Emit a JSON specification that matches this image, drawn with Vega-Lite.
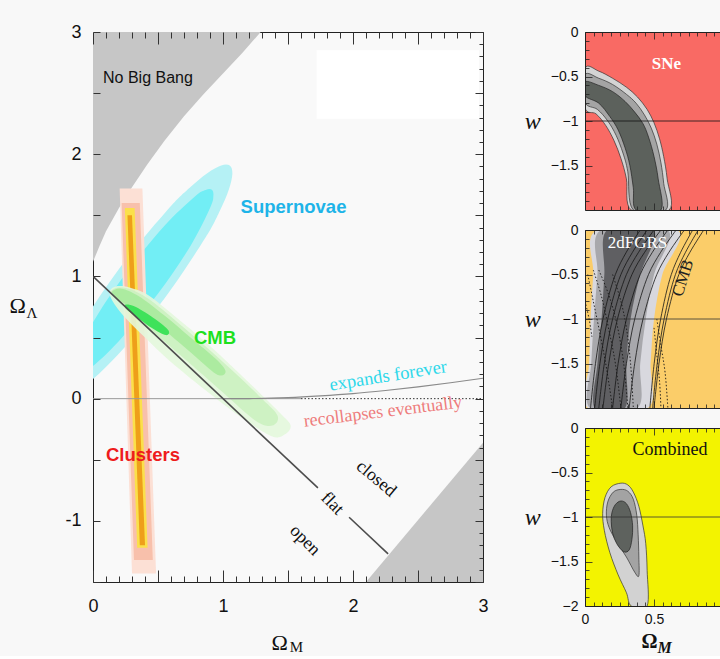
{
"$schema": "https://vega.github.io/schema/vega-lite/v6.json",
"background": "#f8f8f8",
"padding": {"left": 8, "top": 22, "right": 0, "bottom": 0},
"spacing": 35,
"config": {"font": "Liberation Sans"},
"datasets": {
"whitebox": [{"x": 1.72, "x2": 2.97, "y": 2.29, "y2": 2.85}],
"nbb": [{"i":0,"x":0,"y":1.12},{"i":1,"x":0.05,"y":1.25},{"i":2,"x":0.1,"y":1.37},{"i":3,"x":0.2,"y":1.56},{"i":4,"x":0.3,"y":1.73},{"i":5,"x":0.42,"y":1.92},{"i":6,"x":0.55,"y":2.11},{"i":7,"x":0.7,"y":2.31},{"i":8,"x":0.85,"y":2.49},{"i":9,"x":1.0,"y":2.66},{"i":10,"x":1.15,"y":2.83},{"i":11,"x":1.29,"y":3.0},{"i":12,"x":0,"y":3.0}],
"br": [{"i":0,"x":2.1,"y":-1.5},{"i":1,"x":3.0,"y":-0.36},{"i":2,"x":3.0,"y":-1.5}],
"sn_out": [{"i":0,"x":1.052,"y":1.907},{"i":1,"x":1.072,"y":1.84},{"i":2,"x":1.045,"y":1.712},{"i":3,"x":0.974,"y":1.534},{"i":4,"x":0.862,"y":1.312},{"i":5,"x":0.551,"y":0.822},{"i":6,"x":0.195,"y":0.364},{"i":7,"x":-0.11,"y":0.065},{"i":8,"x":-0.282,"y":0.003},{"i":9,"x":-0.276,"y":0.197},{"i":10,"x":-0.093,"y":0.594},{"i":11,"x":0.218,"y":1.087},{"i":12,"x":0.574,"y":1.545},{"i":13,"x":0.739,"y":1.722},{"i":14,"x":0.879,"y":1.845},{"i":15,"x":0.986,"y":1.908}],
"sn_in": [{"i":0,"x":0.914,"y":1.71},{"i":1,"x":0.926,"y":1.66},{"i":2,"x":0.901,"y":1.562},{"i":3,"x":0.751,"y":1.252},{"i":4,"x":0.502,"y":0.862},{"i":5,"x":0.221,"y":0.497},{"i":6,"x":-0.015,"y":0.255},{"i":7,"x":-0.145,"y":0.2},{"i":8,"x":-0.132,"y":0.348},{"i":9,"x":0.019,"y":0.658},{"i":10,"x":0.268,"y":1.048},{"i":11,"x":0.548,"y":1.413},{"i":12,"x":0.784,"y":1.655},{"i":13,"x":0.866,"y":1.708}],
"cl_a": [{"i":0,"x":0.205,"y":1.72},{"i":1,"x":0.38,"y":1.72},{"i":2,"x":0.485,"y":-1.43},{"i":3,"x":0.3,"y":-1.43}],
"cl_b": [{"i":0,"x":0.22,"y":1.6},{"i":1,"x":0.36,"y":1.6},{"i":2,"x":0.46,"y":-1.32},{"i":3,"x":0.315,"y":-1.32}],
"cl_c": [{"i":0,"x":0.245,"y":1.56},{"i":1,"x":0.32,"y":1.56},{"i":2,"x":0.42,"y":-1.22},{"i":3,"x":0.34,"y":-1.22}],
"cl_d": [{"i":0,"x":0.265,"y":1.5},{"i":1,"x":0.3,"y":1.5},{"i":2,"x":0.4,"y":-1.2},{"i":3,"x":0.36,"y":-1.2}],
"cmb1": [{"i":0,"x":0.13,"y":0.88},{"i":1,"x":0.18,"y":0.92},{"i":2,"x":0.28,"y":0.91},{"i":3,"x":0.42,"y":0.85},{"i":4,"x":0.6,"y":0.7},{"i":5,"x":0.9,"y":0.43},{"i":6,"x":1.2,"y":0.13},{"i":7,"x":1.45,"y":-0.13},{"i":8,"x":1.52,"y":-0.22},{"i":9,"x":1.48,"y":-0.29},{"i":10,"x":1.38,"y":-0.31},{"i":11,"x":1.15,"y":-0.16},{"i":12,"x":0.9,"y":0.04},{"i":13,"x":0.6,"y":0.3},{"i":14,"x":0.4,"y":0.5},{"i":15,"x":0.25,"y":0.66},{"i":16,"x":0.15,"y":0.8}],
"cmb2": [{"i":0,"x":0.14,"y":0.88},{"i":1,"x":0.2,"y":0.91},{"i":2,"x":0.3,"y":0.89},{"i":3,"x":0.45,"y":0.8},{"i":4,"x":0.7,"y":0.58},{"i":5,"x":1.0,"y":0.3},{"i":6,"x":1.3,"y":0.0},{"i":7,"x":1.42,"y":-0.14},{"i":8,"x":1.38,"y":-0.22},{"i":9,"x":1.25,"y":-0.18},{"i":10,"x":1.0,"y":0.05},{"i":11,"x":0.7,"y":0.33},{"i":12,"x":0.45,"y":0.56},{"i":13,"x":0.28,"y":0.72},{"i":14,"x":0.16,"y":0.83}],
"cmb3": [{"i":0,"x":0.15,"y":0.88},{"i":1,"x":0.22,"y":0.9},{"i":2,"x":0.35,"y":0.84},{"i":3,"x":0.55,"y":0.68},{"i":4,"x":0.75,"y":0.5},{"i":5,"x":0.95,"y":0.32},{"i":6,"x":1.02,"y":0.22},{"i":7,"x":0.95,"y":0.2},{"i":8,"x":0.75,"y":0.38},{"i":9,"x":0.5,"y":0.6},{"i":10,"x":0.3,"y":0.74},{"i":11,"x":0.17,"y":0.83}],
"cmb4": [{"i":0,"x":0.25,"y":0.77},{"i":1,"x":0.33,"y":0.75},{"i":2,"x":0.48,"y":0.65},{"i":3,"x":0.58,"y":0.56},{"i":4,"x":0.56,"y":0.52},{"i":5,"x":0.45,"y":0.58},{"i":6,"x":0.32,"y":0.68},{"i":7,"x":0.25,"y":0.74}],
"zero_solid": [{"x":0,"y":0},{"x":1.6,"y":0}],
"zero_dot": [{"x":1.6,"y":0},{"x":3.0,"y":0}],
"expand": [{"x":1.0,"y":0},{"x":1.25,"y":0.0015},{"x":1.5,"y":0.0085},{"x":1.75,"y":0.0224},{"x":2.0,"y":0.041},{"x":2.25,"y":0.0666},{"x":2.5,"y":0.096},{"x":2.75,"y":0.13},{"x":3.0,"y":0.167}],
"flat": [{"s":"a","x":0,"y":1},{"s":"a","x":1.73,"y":-0.73},{"s":"b","x":1.97,"y":-0.97},{"s":"b","x":2.27,"y":-1.27}],
"wline": [{"x":0,"y":-1},{"x":1,"y":-1}],
"p1_light": [{"i":0,"x":0,"y":-0.41},{"i":1,"x":0.1,"y":-0.44},{"i":2,"x":0.2,"y":-0.52},{"i":3,"x":0.3,"y":-0.62},{"i":4,"x":0.38,"y":-0.73},{"i":5,"x":0.45,"y":-0.87},{"i":6,"x":0.5,"y":-1.02},{"i":7,"x":0.54,"y":-1.2},{"i":8,"x":0.57,"y":-1.4},{"i":9,"x":0.595,"y":-1.65},{"i":10,"x":0.61,"y":-2.0},{"i":11,"x":0.335,"y":-2.0},{"i":12,"x":0.3,"y":-1.65},{"i":13,"x":0.26,"y":-1.42},{"i":14,"x":0.21,"y":-1.22},{"i":15,"x":0.15,"y":-1.05},{"i":16,"x":0.08,"y":-0.92},{"i":17,"x":0,"y":-0.85}],
"p1_med": [{"i":0,"x":0,"y":-0.48},{"i":1,"x":0.1,"y":-0.52},{"i":2,"x":0.2,"y":-0.59},{"i":3,"x":0.3,"y":-0.7},{"i":4,"x":0.37,"y":-0.8},{"i":5,"x":0.43,"y":-0.93},{"i":6,"x":0.48,"y":-1.08},{"i":7,"x":0.52,"y":-1.26},{"i":8,"x":0.55,"y":-1.47},{"i":9,"x":0.57,"y":-1.7},{"i":10,"x":0.585,"y":-2.0},{"i":11,"x":0.35,"y":-2.0},{"i":12,"x":0.31,"y":-1.57},{"i":13,"x":0.275,"y":-1.36},{"i":14,"x":0.225,"y":-1.16},{"i":15,"x":0.165,"y":-1.0},{"i":16,"x":0.09,"y":-0.87},{"i":17,"x":0,"y":-0.79}],
"p1_dark": [{"i":0,"x":0,"y":-0.56},{"i":1,"x":0.1,"y":-0.6},{"i":2,"x":0.2,"y":-0.67},{"i":3,"x":0.29,"y":-0.78},{"i":4,"x":0.36,"y":-0.9},{"i":5,"x":0.42,"y":-1.03},{"i":6,"x":0.46,"y":-1.18},{"i":7,"x":0.5,"y":-1.4},{"i":8,"x":0.53,"y":-1.65},{"i":9,"x":0.55,"y":-2.0},{"i":10,"x":0.37,"y":-2.0},{"i":11,"x":0.35,"y":-1.75},{"i":12,"x":0.325,"y":-1.5},{"i":13,"x":0.29,"y":-1.3},{"i":14,"x":0.24,"y":-1.1},{"i":15,"x":0.18,"y":-0.95},{"i":16,"x":0.1,"y":-0.8},{"i":17,"x":0,"y":-0.715}],
"p2_light": [{"i":0,"x":0.087,"y":0},{"i":1,"x":0.06,"y":-0.5},{"i":2,"x":0.04,"y":-1},{"i":3,"x":0.03,"y":-1.5},{"i":4,"x":0.02,"y":-2},{"i":5,"x":0.455,"y":-2},{"i":6,"x":0.475,"y":-1.5},{"i":7,"x":0.5,"y":-1},{"i":8,"x":0.56,"y":-0.5},{"i":9,"x":0.67,"y":0}],
"p2_med": [{"i":0,"x":0.115,"y":0},{"i":1,"x":0.09,"y":-0.5},{"i":2,"x":0.065,"y":-1},{"i":3,"x":0.045,"y":-1.5},{"i":4,"x":0.035,"y":-2},{"i":5,"x":0.38,"y":-2},{"i":6,"x":0.4,"y":-1.5},{"i":7,"x":0.44,"y":-1},{"i":8,"x":0.5,"y":-0.5},{"i":9,"x":0.6,"y":0}],
"p2_dark": [{"i":0,"x":0.16,"y":0},{"i":1,"x":0.14,"y":-0.5},{"i":2,"x":0.12,"y":-1},{"i":3,"x":0.09,"y":-1.5},{"i":4,"x":0.07,"y":-2},{"i":5,"x":0.29,"y":-2},{"i":6,"x":0.3,"y":-1.5},{"i":7,"x":0.33,"y":-1},{"i":8,"x":0.4,"y":-0.5},{"i":9,"x":0.5,"y":0}],
"p2_cmb": [
{"s":1,"i":0,"x":0.4,"y":0},{"s":1,"i":1,"x":0.299,"y":-0.25},{"s":1,"i":2,"x":0.22,"y":-0.5},{"s":1,"i":3,"x":0.13,"y":-1},{"s":1,"i":4,"x":0.076,"y":-1.5},{"s":1,"i":5,"x":0.04,"y":-2},
{"s":2,"i":0,"x":0.45,"y":0},{"s":2,"i":1,"x":0.344,"y":-0.25},{"s":2,"i":2,"x":0.26,"y":-0.5},{"s":2,"i":3,"x":0.165,"y":-1},{"s":2,"i":4,"x":0.108,"y":-1.5},{"s":2,"i":5,"x":0.07,"y":-2},
{"s":3,"i":0,"x":0.5,"y":0},{"s":3,"i":1,"x":0.388,"y":-0.25},{"s":3,"i":2,"x":0.3,"y":-0.5},{"s":3,"i":3,"x":0.2,"y":-1},{"s":3,"i":4,"x":0.14,"y":-1.5},{"s":3,"i":5,"x":0.1,"y":-2},
{"s":4,"i":0,"x":0.55,"y":0},{"s":4,"i":1,"x":0.432,"y":-0.25},{"s":4,"i":2,"x":0.34,"y":-0.5},{"s":4,"i":3,"x":0.235,"y":-1},{"s":4,"i":4,"x":0.172,"y":-1.5},{"s":4,"i":5,"x":0.13,"y":-2},
{"s":5,"i":0,"x":0.6,"y":0},{"s":5,"i":1,"x":0.488,"y":-0.25},{"s":5,"i":2,"x":0.4,"y":-0.5},{"s":5,"i":3,"x":0.3,"y":-1},{"s":5,"i":4,"x":0.24,"y":-1.5},{"s":5,"i":5,"x":0.2,"y":-2},
{"s":6,"i":0,"x":0.66,"y":0},{"s":6,"i":1,"x":0.548,"y":-0.25},{"s":6,"i":2,"x":0.46,"y":-0.5},{"s":6,"i":3,"x":0.36,"y":-1},{"s":6,"i":4,"x":0.3,"y":-1.5},{"s":6,"i":5,"x":0.26,"y":-2},
{"s":7,"i":0,"x":0.72,"y":0},{"s":7,"i":1,"x":0.608,"y":-0.25},{"s":7,"i":2,"x":0.52,"y":-0.5},{"s":7,"i":3,"x":0.42,"y":-1},{"s":7,"i":4,"x":0.36,"y":-1.5},{"s":7,"i":5,"x":0.32,"y":-2},
{"s":8,"i":0,"x":0.78,"y":0},{"s":8,"i":1,"x":0.693,"y":-0.25},{"s":8,"i":2,"x":0.625,"y":-0.5},{"s":8,"i":3,"x":0.548,"y":-1},{"s":8,"i":4,"x":0.501,"y":-1.5},{"s":8,"i":5,"x":0.47,"y":-2},
{"s":9,"i":0,"x":0.82,"y":0},{"s":9,"i":1,"x":0.728,"y":-0.25},{"s":9,"i":2,"x":0.655,"y":-0.5},{"s":9,"i":3,"x":0.573,"y":-1},{"s":9,"i":4,"x":0.523,"y":-1.5},{"s":9,"i":5,"x":0.49,"y":-2},
{"s":10,"i":0,"x":0.86,"y":0},{"s":10,"i":1,"x":0.76,"y":-0.25},{"s":10,"i":2,"x":0.68,"y":-0.5},{"s":10,"i":3,"x":0.59,"y":-1},{"s":10,"i":4,"x":0.536,"y":-1.5},{"s":10,"i":5,"x":0.5,"y":-2}],
"p2_dot": [
{"s":1,"i":0,"x":0.02,"y":-0.5},{"s":1,"i":1,"x":0.06,"y":-0.8},{"s":1,"i":2,"x":0.1,"y":-1.1},{"s":1,"i":3,"x":0.15,"y":-1.5},{"s":1,"i":4,"x":0.2,"y":-2.0},
{"s":2,"i":0,"x":0.06,"y":-0.45},{"s":2,"i":1,"x":0.12,"y":-0.75},{"s":2,"i":2,"x":0.17,"y":-1.1},{"s":2,"i":3,"x":0.22,"y":-1.5},{"s":2,"i":4,"x":0.26,"y":-2.0},
{"s":3,"i":0,"x":0.1,"y":-0.45},{"s":3,"i":1,"x":0.17,"y":-0.72},{"s":3,"i":2,"x":0.23,"y":-1.05},{"s":3,"i":3,"x":0.28,"y":-1.5},{"s":3,"i":4,"x":0.31,"y":-2.0},
{"s":4,"i":0,"x":0.2,"y":-0.5},{"s":4,"i":1,"x":0.26,"y":-0.8},{"s":4,"i":2,"x":0.3,"y":-1.1},{"s":4,"i":3,"x":0.33,"y":-1.5},{"s":4,"i":4,"x":0.35,"y":-2.0},
{"s":5,"i":0,"x":0.0,"y":-0.8},{"s":5,"i":1,"x":0.03,"y":-1.0},{"s":5,"i":2,"x":0.05,"y":-1.2},
{"s":6,"i":0,"x":0.52,"y":-1.0},{"s":6,"i":1,"x":0.55,"y":-1.3},{"s":6,"i":2,"x":0.58,"y":-1.6},{"s":6,"i":3,"x":0.6,"y":-2.0},
{"s":7,"i":0,"x":0.5,"y":-1.1},{"s":7,"i":1,"x":0.52,"y":-1.4},{"s":7,"i":2,"x":0.54,"y":-1.7},{"s":7,"i":3,"x":0.55,"y":-2.0}],
"p3_light": [{"i":0,"x":0.26,"y":-0.62},{"i":1,"x":0.31,"y":-0.64},{"i":2,"x":0.35,"y":-0.72},{"i":3,"x":0.39,"y":-0.88},{"i":4,"x":0.42,"y":-1.1},{"i":5,"x":0.44,"y":-1.3},{"i":6,"x":0.45,"y":-1.6},{"i":7,"x":0.45,"y":-2.0},{"i":8,"x":0.335,"y":-2.0},{"i":9,"x":0.3,"y":-1.85},{"i":10,"x":0.24,"y":-1.65},{"i":11,"x":0.18,"y":-1.4},{"i":12,"x":0.14,"y":-1.15},{"i":13,"x":0.128,"y":-0.96},{"i":14,"x":0.145,"y":-0.78},{"i":15,"x":0.19,"y":-0.66}],
"p3_med": [{"i":0,"x":0.26,"y":-0.69},{"i":1,"x":0.31,"y":-0.71},{"i":2,"x":0.35,"y":-0.8},{"i":3,"x":0.375,"y":-0.98},{"i":4,"x":0.385,"y":-1.2},{"i":5,"x":0.39,"y":-1.45},{"i":6,"x":0.39,"y":-1.66},{"i":7,"x":0.36,"y":-1.62},{"i":8,"x":0.3,"y":-1.45},{"i":9,"x":0.23,"y":-1.28},{"i":10,"x":0.175,"y":-1.12},{"i":11,"x":0.155,"y":-0.98},{"i":12,"x":0.165,"y":-0.83},{"i":13,"x":0.205,"y":-0.72}],
"p3_dark": [{"i":0,"x":0.26,"y":-0.82},{"i":1,"x":0.3,"y":-0.85},{"i":2,"x":0.33,"y":-0.95},{"i":3,"x":0.345,"y":-1.1},{"i":4,"x":0.34,"y":-1.25},{"i":5,"x":0.32,"y":-1.37},{"i":6,"x":0.28,"y":-1.39},{"i":7,"x":0.23,"y":-1.3},{"i":8,"x":0.2,"y":-1.18},{"i":9,"x":0.19,"y":-1.05},{"i":10,"x":0.195,"y":-0.95},{"i":11,"x":0.22,"y":-0.86}]
},
"hconcat": [
{
"width": 390, "height": 550,
"view": {"fill": "#f9f9f9", "stroke": "#222222", "strokeWidth": 1},
"encoding": {
 "x": {"field": "x", "type": "quantitative", "scale": {"domain": [0, 3], "nice": false, "zero": false}, "axis": null},
 "y": {"field": "y", "type": "quantitative", "scale": {"domain": [-1.5, 3], "nice": false, "zero": false}, "axis": null}
},
"resolve": {"axis": {"x": "independent", "y": "independent"}},
"layer": [
 {"data": {"name": "whitebox"}, "mark": {"type": "rect", "fill": "#ffffff"},
  "encoding": {
   "x": {"field": "x", "type": "quantitative", "scale": {"domain": [0, 3], "nice": false, "zero": false},
     "axis": {"orient": "bottom", "values": [0,0.1,0.2,0.3,0.4,0.5,0.6,0.7,0.8,0.9,1,1.1,1.2,1.3,1.4,1.5,1.6,1.7,1.8,1.9,2,2.1,2.2,2.3,2.4,2.5,2.6,2.7,2.8,2.9,3],
       "title": null, "grid": false, "domain": false, "tickColor": "#333333", "tickWidth": 1,
       "tickSize": {"condition": {"test": "abs(datum.value*2-round(datum.value*2))<0.001", "value": -12}, "value": -6},
       "labelExpr": "abs(datum.value-round(datum.value))<0.001 ? ''+round(datum.value) : ''",
       "labelPadding": 27, "labelFont": "Liberation Sans", "labelFontSize": 18, "labelColor": "#111111", "labelFlush": false, "labelOverlap": false, "zindex": 1}},
   "x2": {"field": "x2"},
   "y": {"field": "y", "type": "quantitative", "scale": {"domain": [-1.5, 3], "nice": false, "zero": false},
     "axis": {"orient": "left", "values": [-1.5,-1,-0.5,0,0.5,1,1.5,2,2.5,3],
       "title": null, "grid": false, "domain": false, "tickColor": "#333333", "tickWidth": 1, "tickSize": -7,
       "labelExpr": "abs(datum.value-round(datum.value))<0.001 ? (datum.value<0 ? '-'+abs(round(datum.value)) : ''+round(datum.value)) : ''",
       "labelPadding": 19, "labelFont": "Liberation Sans", "labelFontSize": 18, "labelColor": "#111111", "labelFlush": false, "labelOverlap": false, "zindex": 1}},
   "y2": {"field": "y2"}
  }},
 {"data": {"name": "nbb"}, "mark": {"type": "line", "fill": "#c6c6c6", "strokeWidth": 0, "strokeOpacity": 0, "interpolate": "linear-closed", "clip": true},
  "encoding": {
   "x": {"field": "x", "type": "quantitative", "scale": {"domain": [0, 3], "nice": false, "zero": false},
     "axis": {"orient": "top", "values": [0,0.1,0.2,0.3,0.4,0.5,0.6,0.7,0.8,0.9,1,1.1,1.2,1.3,1.4,1.5,1.6,1.7,1.8,1.9,2,2.1,2.2,2.3,2.4,2.5,2.6,2.7,2.8,2.9,3],
       "title": null, "grid": false, "domain": false, "labels": false, "tickColor": "#333333", "tickWidth": 1,
       "tickSize": {"condition": {"test": "abs(datum.value*2-round(datum.value*2))<0.001", "value": -12}, "value": -6}, "zindex": 1}},
   "y": {"field": "y", "type": "quantitative", "scale": {"domain": [-1.5, 3], "nice": false, "zero": false},
     "axis": {"orient": "right", "values": [-1.5,-1.4,-1.3,-1.2,-1.1,-1,-0.9,-0.8,-0.7,-0.6,-0.5,-0.4,-0.3,-0.2,-0.1,0,0.1,0.2,0.3,0.4,0.5,0.6,0.7,0.8,0.9,1,1.1,1.2,1.3,1.4,1.5,1.6,1.7,1.8,1.9,2,2.1,2.2,2.3,2.4,2.5,2.6,2.7,2.8,2.9,3],
       "title": null, "grid": false, "domain": false, "labels": false, "tickColor": "#333333", "tickWidth": 1,
       "tickSize": {"condition": {"test": "abs(datum.value*2-round(datum.value*2))<0.001", "value": -8}, "value": -4}, "zindex": 1}},
   "order": {"field": "i", "type": "quantitative"}
  }},
 {"data": {"name": "br"}, "mark": {"type": "line", "fill": "#c6c6c6", "strokeWidth": 0, "strokeOpacity": 0, "interpolate": "linear-closed", "clip": true}, "encoding": {"order": {"field": "i", "type": "quantitative"}}},
 {"data": {"name": "sn_out"}, "mark": {"type": "line", "fill": "#b5f1f5", "strokeWidth": 0, "strokeOpacity": 0, "interpolate": "cardinal-closed", "clip": true}, "encoding": {"order": {"field": "i", "type": "quantitative"}}},
 {"data": {"name": "sn_in"}, "mark": {"type": "line", "fill": "#72eef5", "strokeWidth": 0, "strokeOpacity": 0, "interpolate": "cardinal-closed", "clip": true}, "encoding": {"order": {"field": "i", "type": "quantitative"}}},
 {"data": {"name": "cl_a"}, "mark": {"type": "line", "fill": "#fce0d5", "strokeWidth": 0, "strokeOpacity": 0, "interpolate": "linear-closed", "clip": true}, "encoding": {"order": {"field": "i", "type": "quantitative"}}},
 {"data": {"name": "cl_b"}, "mark": {"type": "line", "fill": "#f8c0ab", "strokeWidth": 0, "strokeOpacity": 0, "interpolate": "linear-closed", "clip": true}, "encoding": {"order": {"field": "i", "type": "quantitative"}}},
 {"data": {"name": "cl_c"}, "mark": {"type": "line", "fill": "#fbe04a", "strokeWidth": 0, "strokeOpacity": 0, "interpolate": "linear-closed", "clip": true}, "encoding": {"order": {"field": "i", "type": "quantitative"}}},
 {"data": {"name": "cl_d"}, "mark": {"type": "line", "fill": "#ee9f1a", "strokeWidth": 0, "strokeOpacity": 0, "interpolate": "linear-closed", "clip": true}, "encoding": {"order": {"field": "i", "type": "quantitative"}}},
 {"data": {"name": "cmb1"}, "mark": {"type": "line", "fill": "#e3f7dc", "fillOpacity": 0.9, "strokeWidth": 0, "strokeOpacity": 0, "interpolate": "cardinal-closed", "clip": true}, "encoding": {"order": {"field": "i", "type": "quantitative"}}},
 {"data": {"name": "cmb2"}, "mark": {"type": "line", "fill": "#cbf1c0", "fillOpacity": 0.9, "strokeWidth": 0, "strokeOpacity": 0, "interpolate": "cardinal-closed", "clip": true}, "encoding": {"order": {"field": "i", "type": "quantitative"}}},
 {"data": {"name": "cmb3"}, "mark": {"type": "line", "fill": "#a8ea9c", "fillOpacity": 0.9, "strokeWidth": 0, "strokeOpacity": 0, "interpolate": "cardinal-closed", "clip": true}, "encoding": {"order": {"field": "i", "type": "quantitative"}}},
 {"data": {"name": "cmb4"}, "mark": {"type": "line", "fill": "#3fe25a", "strokeWidth": 0, "strokeOpacity": 0, "interpolate": "cardinal-closed", "clip": true}, "encoding": {"order": {"field": "i", "type": "quantitative"}}},
 {"data": {"name": "zero_solid"}, "mark": {"type": "line", "color": "#9a9a9a", "strokeWidth": 1, "clip": true}},
 {"data": {"name": "zero_dot"}, "mark": {"type": "line", "color": "#333333", "strokeWidth": 1, "strokeDash": [1.5, 2], "clip": true}},
 {"data": {"name": "expand"}, "mark": {"type": "line", "color": "#8a8a8a", "strokeWidth": 1.2, "interpolate": "monotone", "clip": true}},
 {"data": {"name": "flat"}, "mark": {"type": "line", "color": "#4d4d4d", "strokeWidth": 1.6, "clip": true}, "encoding": {"detail": {"field": "s", "type": "nominal"}}},
 {"data": {"values": [{"x": 0.077, "y": 2.62, "t": "No Big Bang"}]}, "mark": {"type": "text", "font": "Liberation Sans", "fontSize": 16, "align": "left", "baseline": "middle", "color": "#111111"}, "encoding": {"text": {"field": "t"}}},
 {"data": {"values": [{"x": 1.135, "y": 1.566, "t": "Supernovae"}]}, "mark": {"type": "text", "font": "Liberation Sans", "fontWeight": "bold", "fontSize": 18.5, "align": "left", "baseline": "middle", "color": "#1eb4e8"}, "encoding": {"text": {"field": "t"}}},
 {"data": {"values": [{"x": 0.777, "y": 0.5, "t": "CMB"}]}, "mark": {"type": "text", "font": "Liberation Sans", "fontWeight": "bold", "fontSize": 18.5, "align": "left", "baseline": "middle", "color": "#1ee01e"}, "encoding": {"text": {"field": "t"}}},
 {"data": {"values": [{"x": 0.1, "y": -0.46, "t": "Clusters"}]}, "mark": {"type": "text", "font": "Liberation Sans", "fontWeight": "bold", "fontSize": 18.5, "align": "left", "baseline": "middle", "color": "#ee1c1c"}, "encoding": {"text": {"field": "t"}}},
 {"data": {"values": [{"x": 2.27, "y": 0.19, "t": "expands forever"}]}, "mark": {"type": "text", "font": "Liberation Serif", "fontSize": 18.5, "align": "center", "baseline": "middle", "angle": -9, "color": "#2ed8ea"}, "encoding": {"text": {"field": "t"}}},
 {"data": {"values": [{"x": 2.23, "y": -0.11, "t": "recollapses eventually"}]}, "mark": {"type": "text", "font": "Liberation Serif", "fontSize": 18, "align": "center", "baseline": "middle", "angle": -7, "color": "#ee7c7c"}, "encoding": {"text": {"field": "t"}}},
 {"data": {"values": [{"x": 2.177, "y": -0.656, "t": "closed"}]}, "mark": {"type": "text", "font": "Liberation Serif", "fontSize": 18, "align": "center", "baseline": "middle", "angle": 40, "color": "#111111"}, "encoding": {"text": {"field": "t"}}},
 {"data": {"values": [{"x": 1.84, "y": -0.86, "t": "flat"}]}, "mark": {"type": "text", "font": "Liberation Serif", "fontSize": 18, "align": "center", "baseline": "middle", "angle": 45, "color": "#111111"}, "encoding": {"text": {"field": "t"}}},
 {"data": {"values": [{"x": 1.63, "y": -1.16, "t": "open"}]}, "mark": {"type": "text", "font": "Liberation Serif", "fontSize": 18, "align": "center", "baseline": "middle", "angle": 45, "color": "#111111"}, "encoding": {"text": {"field": "t"}}},
 {"data": {"values": [{"x": -0.58, "y": 0.762, "t": "Ω"}, {"x": 1.435, "y": -1.996, "t": "Ω"}]}, "mark": {"type": "text", "font": "Liberation Serif", "fontSize": 22, "align": "center", "baseline": "middle", "color": "#111111"}, "encoding": {"text": {"field": "t"}}},
 {"data": {"values": [{"x": -0.47, "y": 0.7, "t": "Λ"}, {"x": 1.565, "y": -2.035, "t": "M"}]}, "mark": {"type": "text", "font": "Liberation Serif", "fontSize": 15, "align": "center", "baseline": "middle", "color": "#111111"}, "encoding": {"text": {"field": "t"}}}
]
},
{
"spacing": 12,
"vconcat": [
{
"width": 136, "height": 178,
"view": {"fill": "#f96a64", "stroke": null},
"encoding": {
 "x": {"field": "x", "type": "quantitative", "scale": {"domain": [0, 0.985], "nice": false, "zero": false}, "axis": null},
 "y": {"field": "y", "type": "quantitative", "scale": {"domain": [-2, 0], "nice": false, "zero": false}, "axis": null}
},
"resolve": {"axis": {"x": "independent", "y": "independent"}},
"layer": [
 {"data": {"name": "p1_light"}, "mark": {"type": "line", "fill": "#d4d4d4", "stroke": "#333333", "strokeWidth": 0.7, "interpolate": "cardinal-closed", "clip": true},
  "encoding": {
   "x": {"field": "x", "type": "quantitative", "scale": {"domain": [0, 0.985], "nice": false, "zero": false},
     "axis": {"orient": "bottom", "values": [0,0.0625,0.125,0.1875,0.25,0.3125,0.375,0.4375,0.5,0.5625,0.625,0.6875,0.75,0.8125,0.875,0.9375], "title": null, "grid": false, "domain": true, "domainColor": "#222222", "domainWidth": 1, "labels": false, "tickColor": "#222222", "tickWidth": 0.8,
       "tickSize": {"condition": {"test": "abs(datum.value*2-round(datum.value*2))<0.001", "value": -7}, "value": -4}, "zindex": 1}},
   "y": {"field": "y", "type": "quantitative", "scale": {"domain": [-2, 0], "nice": false, "zero": false},
     "axis": {"orient": "left", "values": [0,-0.1,-0.2,-0.3,-0.4,-0.5,-0.6,-0.7,-0.8,-0.9,-1,-1.1,-1.2,-1.3,-1.4,-1.5,-1.6,-1.7,-1.8,-1.9], "grid": false, "domain": true, "domainColor": "#222222", "domainWidth": 1, "tickColor": "#222222", "tickWidth": 0.8,
       "tickSize": {"condition": {"test": "abs(datum.value*2-round(datum.value*2))<0.001", "value": -7}, "value": -4},
       "format": "~g", "labelExpr": "abs(datum.value*2-round(datum.value*2))<0.001 ? datum.label : ''",
       "labelPadding": 14, "labelFont": "Liberation Sans", "labelFontSize": 14, "labelColor": "#111111", "labelFlush": false, "labelOverlap": false,
       "title": "w", "titleFont": "Liberation Serif", "titleFontStyle": "italic", "titleFontWeight": "normal", "titleFontSize": 24, "titleColor": "#111111", "titleAngle": 0, "titleAlign": "right", "titleBaseline": "middle", "titlePadding": 10, "zindex": 1}},
   "order": {"field": "i", "type": "quantitative"}
  }},
 {"data": {"name": "p1_med"}, "mark": {"type": "line", "fill": "#a4a4a4", "stroke": "#333333", "strokeWidth": 0.7, "interpolate": "cardinal-closed", "clip": true},
  "encoding": {
   "x": {"field": "x", "type": "quantitative", "scale": {"domain": [0, 0.985], "nice": false, "zero": false},
     "axis": {"orient": "top", "values": [0,0.0625,0.125,0.1875,0.25,0.3125,0.375,0.4375,0.5,0.5625,0.625,0.6875,0.75,0.8125,0.875,0.9375], "title": null, "grid": false, "domain": true, "domainColor": "#222222", "domainWidth": 1, "labels": false, "tickColor": "#222222", "tickWidth": 0.8,
       "tickSize": {"condition": {"test": "abs(datum.value*2-round(datum.value*2))<0.001", "value": -7}, "value": -4}, "zindex": 1}},
   "order": {"field": "i", "type": "quantitative"}
  }},
 {"data": {"name": "p1_dark"}, "mark": {"type": "line", "fill": "#5c615c", "stroke": "#222222", "strokeWidth": 0.7, "interpolate": "cardinal-closed", "clip": true}, "encoding": {"order": {"field": "i", "type": "quantitative"}}},
 {"data": {"name": "wline"}, "mark": {"type": "line", "color": "#111111", "strokeWidth": 0.8, "clip": true}},
 {"data": {"values": [{"x": 0.59, "y": -0.36, "t": "SNe"}]}, "mark": {"type": "text", "font": "Liberation Serif", "fontWeight": "bold", "fontSize": 17, "align": "center", "baseline": "middle", "color": "#ffffff"}, "encoding": {"text": {"field": "t"}}}
]
},
{
"width": 136, "height": 178,
"view": {"fill": "#fbcd69", "stroke": null},
"encoding": {
 "x": {"field": "x", "type": "quantitative", "scale": {"domain": [0, 0.985], "nice": false, "zero": false}, "axis": null},
 "y": {"field": "y", "type": "quantitative", "scale": {"domain": [-2, 0], "nice": false, "zero": false}, "axis": null}
},
"resolve": {"axis": {"x": "independent", "y": "independent"}},
"layer": [
 {"data": {"name": "p2_light"}, "mark": {"type": "line", "fill": "#d8d8de", "strokeWidth": 0, "strokeOpacity": 0, "interpolate": "cardinal-closed", "clip": true},
  "encoding": {
   "x": {"field": "x", "type": "quantitative", "scale": {"domain": [0, 0.985], "nice": false, "zero": false},
     "axis": {"orient": "bottom", "values": [0,0.0625,0.125,0.1875,0.25,0.3125,0.375,0.4375,0.5,0.5625,0.625,0.6875,0.75,0.8125,0.875,0.9375], "title": null, "grid": false, "domain": true, "domainColor": "#222222", "domainWidth": 1, "labels": false, "tickColor": "#222222", "tickWidth": 0.8,
       "tickSize": {"condition": {"test": "abs(datum.value*2-round(datum.value*2))<0.001", "value": -7}, "value": -4}, "zindex": 1}},
   "y": {"field": "y", "type": "quantitative", "scale": {"domain": [-2, 0], "nice": false, "zero": false},
     "axis": {"orient": "left", "values": [0,-0.1,-0.2,-0.3,-0.4,-0.5,-0.6,-0.7,-0.8,-0.9,-1,-1.1,-1.2,-1.3,-1.4,-1.5,-1.6,-1.7,-1.8,-1.9], "grid": false, "domain": true, "domainColor": "#222222", "domainWidth": 1, "tickColor": "#222222", "tickWidth": 0.8,
       "tickSize": {"condition": {"test": "abs(datum.value*2-round(datum.value*2))<0.001", "value": -7}, "value": -4},
       "format": "~g", "labelExpr": "abs(datum.value*2-round(datum.value*2))<0.001 ? datum.label : ''",
       "labelPadding": 14, "labelFont": "Liberation Sans", "labelFontSize": 14, "labelColor": "#111111", "labelFlush": false, "labelOverlap": false,
       "title": "w", "titleFont": "Liberation Serif", "titleFontStyle": "italic", "titleFontWeight": "normal", "titleFontSize": 24, "titleColor": "#111111", "titleAngle": 0, "titleAlign": "right", "titleBaseline": "middle", "titlePadding": 10, "zindex": 1}},
   "order": {"field": "i", "type": "quantitative"}
  }},
 {"data": {"name": "p2_med"}, "mark": {"type": "line", "fill": "#a8a8ac", "strokeWidth": 0, "strokeOpacity": 0, "interpolate": "cardinal-closed", "clip": true},
  "encoding": {
   "x": {"field": "x", "type": "quantitative", "scale": {"domain": [0, 0.985], "nice": false, "zero": false},
     "axis": {"orient": "top", "values": [0,0.0625,0.125,0.1875,0.25,0.3125,0.375,0.4375,0.5,0.5625,0.625,0.6875,0.75,0.8125,0.875,0.9375], "title": null, "grid": false, "domain": true, "domainColor": "#222222", "domainWidth": 1, "labels": false, "tickColor": "#222222", "tickWidth": 0.8,
       "tickSize": {"condition": {"test": "abs(datum.value*2-round(datum.value*2))<0.001", "value": -7}, "value": -4}, "zindex": 1}},
   "order": {"field": "i", "type": "quantitative"}
  }},
 {"data": {"name": "p2_dark"}, "mark": {"type": "line", "fill": "#5f5f62", "strokeWidth": 0, "strokeOpacity": 0, "interpolate": "cardinal-closed", "clip": true}, "encoding": {"order": {"field": "i", "type": "quantitative"}}},
 {"data": {"name": "p2_cmb"}, "mark": {"type": "line", "color": "#151515", "strokeWidth": 0.8, "interpolate": "catmull-rom", "clip": true}, "encoding": {"detail": {"field": "s", "type": "nominal"}, "order": {"field": "i", "type": "quantitative"}}},
 {"data": {"name": "p2_dot"}, "mark": {"type": "line", "color": "#151515", "strokeWidth": 0.9, "strokeDash": [1.5, 2], "interpolate": "catmull-rom", "clip": true}, "encoding": {"detail": {"field": "s", "type": "nominal"}, "order": {"field": "i", "type": "quantitative"}}},
 {"data": {"name": "wline"}, "mark": {"type": "line", "color": "#333333", "strokeWidth": 0.8, "clip": true}},
 {"data": {"values": [{"x": 0.38, "y": -0.143, "t": "2dFGRS"}]}, "mark": {"type": "text", "font": "Liberation Serif", "fontSize": 17, "align": "center", "baseline": "middle", "color": "#ffffff"}, "encoding": {"text": {"field": "t"}}},
 {"data": {"values": [{"x": 0.71, "y": -0.54, "t": "CMB"}]}, "mark": {"type": "text", "font": "Liberation Serif", "fontSize": 17, "align": "center", "baseline": "middle", "angle": -72, "color": "#222222"}, "encoding": {"text": {"field": "t"}}}
]
},
{
"width": 136, "height": 178,
"view": {"fill": "#f3f300", "stroke": null},
"encoding": {
 "x": {"field": "x", "type": "quantitative", "scale": {"domain": [0, 0.985], "nice": false, "zero": false}, "axis": null},
 "y": {"field": "y", "type": "quantitative", "scale": {"domain": [-2, 0], "nice": false, "zero": false}, "axis": null}
},
"resolve": {"axis": {"x": "independent", "y": "independent"}},
"layer": [
 {"data": {"name": "p3_light"}, "mark": {"type": "line", "fill": "#d2d2d2", "stroke": "#333333", "strokeWidth": 0.7, "interpolate": "cardinal-closed", "clip": true},
  "encoding": {
   "x": {"field": "x", "type": "quantitative", "scale": {"domain": [0, 0.985], "nice": false, "zero": false},
     "axis": {"orient": "bottom", "values": [0,0.0625,0.125,0.1875,0.25,0.3125,0.375,0.4375,0.5,0.5625,0.625,0.6875,0.75,0.8125,0.875,0.9375], "title": null, "grid": false, "domain": true, "domainColor": "#222222", "domainWidth": 1, "tickColor": "#222222", "tickWidth": 0.8,
       "tickSize": {"condition": {"test": "abs(datum.value*2-round(datum.value*2))<0.001", "value": -7}, "value": -4},
       "format": "~g", "labelExpr": "abs(datum.value*2-round(datum.value*2))<0.001 ? datum.label : ''",
       "labelPadding": 13, "labelFont": "Liberation Sans", "labelFontSize": 14, "labelColor": "#111111", "labelFlush": false, "labelOverlap": false, "zindex": 1}},
   "y": {"field": "y", "type": "quantitative", "scale": {"domain": [-2, 0], "nice": false, "zero": false},
     "axis": {"orient": "left", "values": [0,-0.1,-0.2,-0.3,-0.4,-0.5,-0.6,-0.7,-0.8,-0.9,-1,-1.1,-1.2,-1.3,-1.4,-1.5,-1.6,-1.7,-1.8,-1.9,-2], "grid": false, "domain": true, "domainColor": "#222222", "domainWidth": 1, "tickColor": "#222222", "tickWidth": 0.8,
       "tickSize": {"condition": {"test": "abs(datum.value*2-round(datum.value*2))<0.001", "value": -7}, "value": -4},
       "format": "~g", "labelExpr": "abs(datum.value*2-round(datum.value*2))<0.001 ? datum.label : ''",
       "labelPadding": 14, "labelFont": "Liberation Sans", "labelFontSize": 14, "labelColor": "#111111", "labelFlush": false, "labelOverlap": false,
       "title": "w", "titleFont": "Liberation Serif", "titleFontStyle": "italic", "titleFontWeight": "normal", "titleFontSize": 24, "titleColor": "#111111", "titleAngle": 0, "titleAlign": "right", "titleBaseline": "middle", "titlePadding": 10, "zindex": 1}},
   "order": {"field": "i", "type": "quantitative"}
  }},
 {"data": {"name": "p3_med"}, "mark": {"type": "line", "fill": "#a3a3a3", "stroke": "#333333", "strokeWidth": 0.7, "interpolate": "cardinal-closed", "clip": true},
  "encoding": {
   "x": {"field": "x", "type": "quantitative", "scale": {"domain": [0, 0.985], "nice": false, "zero": false},
     "axis": {"orient": "top", "values": [0,0.0625,0.125,0.1875,0.25,0.3125,0.375,0.4375,0.5,0.5625,0.625,0.6875,0.75,0.8125,0.875,0.9375], "title": null, "grid": false, "domain": true, "domainColor": "#222222", "domainWidth": 1, "labels": false, "tickColor": "#222222", "tickWidth": 0.8,
       "tickSize": {"condition": {"test": "abs(datum.value*2-round(datum.value*2))<0.001", "value": -7}, "value": -4}, "zindex": 1}},
   "order": {"field": "i", "type": "quantitative"}
  }},
 {"data": {"name": "p3_dark"}, "mark": {"type": "line", "fill": "#5e625e", "stroke": "#222222", "strokeWidth": 0.7, "interpolate": "cardinal-closed", "clip": true}, "encoding": {"order": {"field": "i", "type": "quantitative"}}},
 {"data": {"name": "wline"}, "mark": {"type": "line", "color": "#333333", "strokeWidth": 0.8, "clip": true}},
 {"data": {"values": [{"x": 0.615, "y": -0.245, "t": "Combined"}]}, "mark": {"type": "text", "font": "Liberation Serif", "fontSize": 18, "align": "center", "baseline": "middle", "color": "#111111"}, "encoding": {"text": {"field": "t"}}},
 {"data": {"values": [{"x": 0.467, "y": -2.4, "t": "Ω"}]}, "mark": {"type": "text", "font": "Liberation Serif", "fontWeight": "bold", "fontSize": 20, "align": "center", "baseline": "middle", "color": "#111111"}, "encoding": {"text": {"field": "t"}}},
 {"data": {"values": [{"x": 0.576, "y": -2.47, "t": "M"}]}, "mark": {"type": "text", "font": "Liberation Serif", "fontWeight": "bold", "fontStyle": "italic", "fontSize": 16, "align": "center", "baseline": "middle", "color": "#111111"}, "encoding": {"text": {"field": "t"}}}
]
}
]
}
]
}
